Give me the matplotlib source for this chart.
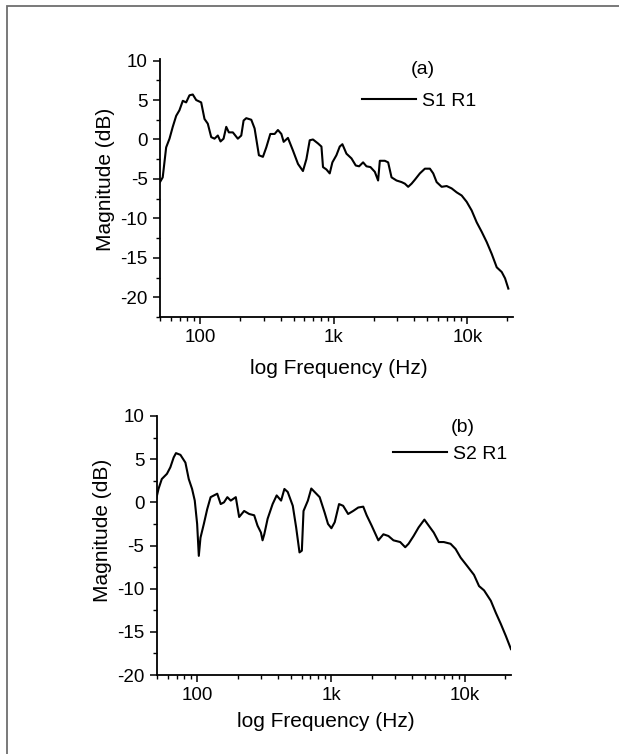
import matplotlib
matplotlib.use("Agg")
import matplotlib.pyplot as plt
from matplotlib.ticker import FixedLocator, FixedFormatter, LogLocator, NullFormatter, MultipleLocator
from matplotlib.patches import Rectangle

plt.rcParams['font.family'] = ['Liberation Sans', 'DejaVu Sans']

# Panel (a): S1 R1
freq_a = [50, 52.4, 55.6, 58.9, 62.3, 66.1, 69.9, 74.1, 78.5, 83.1, 88.0, 93.3, 101.7, 107.7,
          114, 120.9, 128, 135.5, 142, 149.6, 156.7, 163.9, 175.6, 191.4, 203, 211.3, 221.3,
          241.3, 255.5, 275.2, 294.9, 312.6, 335, 360.9, 382, 405.3, 421.7, 454, 495, 540,
          588, 624, 661, 699, 762, 809, 831, 881, 933, 977, 1047, 1109, 1161, 1245, 1358,
          1462, 1549, 1659, 1758, 1884, 2031, 2149, 2214, 2413, 2555, 2709, 2953, 3219, 3409,
          3609, 3828, 4053, 4416, 4816, 5250, 5560, 5896, 6429, 7008, 7638, 8327, 9078, 9897,
          10790, 11763, 12823, 13980, 15240, 16617, 18115, 19185, 20300]
mag_a = [-5.4, -4.8, -1.0, 0.1, 1.6, 3.0, 3.7, 4.9, 4.7, 5.6, 5.7, 5.0, 4.7, 2.6,
         2.0, 0.3, 0.1, 0.5, -0.25, 0.1, 1.6, 0.9, 0.9, 0.1, 0.5, 2.4, 2.7,
         2.5, 1.4, -2.0, -2.2, -1.0, 0.7, 0.7, 1.2, 0.7, -0.3, 0.2, -1.4, -3.1,
         -4.0, -2.5, -0.1, 0.0, -0.5, -0.9, -3.5, -3.8, -4.3, -2.9, -2.0, -0.9, -0.6, -1.8, -2.4,
         -3.3, -3.4, -2.9, -3.4, -3.5, -4.1, -5.2, -2.7, -2.7, -2.9, -4.8, -5.2, -5.4, -5.6,
         -6.0, -5.6, -5.1, -4.3, -3.7, -3.7, -4.3, -5.4, -6.0, -5.9, -6.2, -6.7, -7.1, -7.9,
         -9.0, -10.5, -11.7, -13.0, -14.5, -16.2, -16.8, -17.6, -18.9]

# Panel (b): S2 R1
freq_b = [49, 51.3, 54.3, 59.3, 62.9, 66.6, 69.3, 74.8, 81.5, 86.3, 91.4, 95.7, 99.7, 102.6,
          105.6, 111.9, 118.5, 125.7, 133.1, 140.9, 149.5, 158.2, 167.6, 177.7, 193.8, 205.3,
          223.7, 243.9, 265.9, 281.6, 298.6, 307, 316.3, 335, 365, 391.3, 422.3, 447, 473.3,
          516.3, 547, 579.5, 603.4, 621, 669.3, 709.7, 751.6, 819.6, 893.4, 946, 1003, 1062,
          1144, 1227, 1337, 1458, 1591, 1734, 1839, 2004, 2248, 2452, 2674, 2915, 3273, 3569,
          3779, 4121, 4494, 4961, 5346, 5829, 6353, 6929, 7780, 8483, 9248, 10387, 11643,
          12699, 13846, 15551, 16950, 18483, 20160, 21980]
mag_b = [0.2, 1.55, 2.7, 3.3, 4.06, 5.2, 5.7, 5.5, 4.6, 2.7, 1.55, 0.2, -2.5, -6.2,
         -4.1, -2.5, -0.8, 0.6, 0.8, 1.0, -0.2, 0.0, 0.6, 0.2, 0.6, -1.7,
         -1.0, -1.35, -1.5, -2.7, -3.5, -4.4, -3.7, -1.9, -0.2, 0.8, 0.2, 1.55, 1.2,
         -0.4, -2.9, -5.8, -5.6, -1.0, 0.2, 1.6, 1.2, 0.6, -1.2, -2.5, -3.0, -2.3,
         -0.2, -0.4, -1.35, -1.0, -0.6, -0.5, -1.5, -2.7, -4.4, -3.7, -3.9, -4.4, -4.6, -5.2,
         -4.8, -3.9, -2.9, -2.0, -2.7, -3.5, -4.6, -4.6, -4.8, -5.4, -6.4, -7.4, -8.4,
         -9.7, -10.2, -11.4, -12.8, -14.1, -15.5, -17.0]

x_ticks = [100, 1000, 10000]
x_tick_labels = ['100', '1k', '10k']
y_ticks = [10, 5, 0, -5, -10, -15, -20]
y_tick_labels = ['10', '5', '0', '-5', '-10', '-15', '-20']

W, H = 619, 754
fig = plt.figure(figsize=(W / 100, H / 100), dpi=100)

# outer frame
fig.patches.append(Rectangle((6.5 / W, -0.1), 2.0, (H - 6.5) / H + 0.1,
                             transform=fig.transFigure, fill=False,
                             edgecolor='#6e6e6e', linewidth=1.3))


def px_rect(left, top, right, bottom):
    return [left / W, (H - bottom) / H, (right - left) / W, (bottom - top) / H]


def style(ax, ylim, xlabel_pos, ylabel_pos):
    ax.set_xscale('log')
    ax.set_xlim(50, 22000)
    ax.set_ylim(*ylim)
    for s in ['top', 'right']:
        ax.spines[s].set_visible(False)
    for s in ['left', 'bottom']:
        ax.spines[s].set_linewidth(1.3)
    ax.xaxis.set_major_locator(FixedLocator(x_ticks))
    ax.xaxis.set_major_formatter(FixedFormatter(x_tick_labels))
    ax.xaxis.set_minor_locator(LogLocator(base=10, subs=[2, 3, 4, 5, 6, 7, 8, 9]))
    ax.xaxis.set_minor_formatter(NullFormatter())
    ax.yaxis.set_major_locator(FixedLocator(y_ticks))
    ax.yaxis.set_major_formatter(FixedFormatter(y_tick_labels))
    ax.yaxis.set_minor_locator(MultipleLocator(2.5))
    ax.tick_params(which='major', direction='out', length=5, width=1.1, labelsize=13.5, pad=4)
    ax.tick_params(which='minor', direction='out', length=3, width=1.0)
    ax.set_xlabel('log Frequency (Hz)', fontsize=15)
    ax.set_ylabel('Magnitude (dB)', fontsize=15)
    ax.xaxis.set_label_coords(*xlabel_pos)
    ax.yaxis.set_label_coords(*ylabel_pos)


ax1 = fig.add_axes(px_rect(160, 59, 513, 317))
ax1.plot(freq_a, mag_a, color='black', linewidth=1.5, label='S1 R1')
style(ax1, (-22.5, 10.2), (0.506, -0.163), (-0.127, 0.535))
ax1.text(423 / W, (H - 70) / H, '(a)', transform=fig.transFigure, fontsize=14,
         ha='center', va='center')
ax1.legend(loc='center left', bbox_to_anchor=(362 / W, (H - 101) / H),
           bbox_transform=fig.transFigure, frameon=False, fontsize=14,
           handlelength=2.8, handletextpad=0.3, borderpad=0, borderaxespad=0)

ax2 = fig.add_axes(px_rect(157, 416, 511, 675))
ax2.plot(freq_b, mag_b, color='black', linewidth=1.5, label='S2 R1')
style(ax2, (-20, 10), (0.477, -0.143), (-0.127, 0.56))
ax2.text(463 / W, (H - 427) / H, '(b)', transform=fig.transFigure, fontsize=14,
         ha='center', va='center')
ax2.legend(loc='center left', bbox_to_anchor=(393 / W, (H - 454) / H),
           bbox_transform=fig.transFigure, frameon=False, fontsize=14,
           handlelength=2.8, handletextpad=0.3, borderpad=0, borderaxespad=0)

fig.savefig('out.png', dpi=100)
